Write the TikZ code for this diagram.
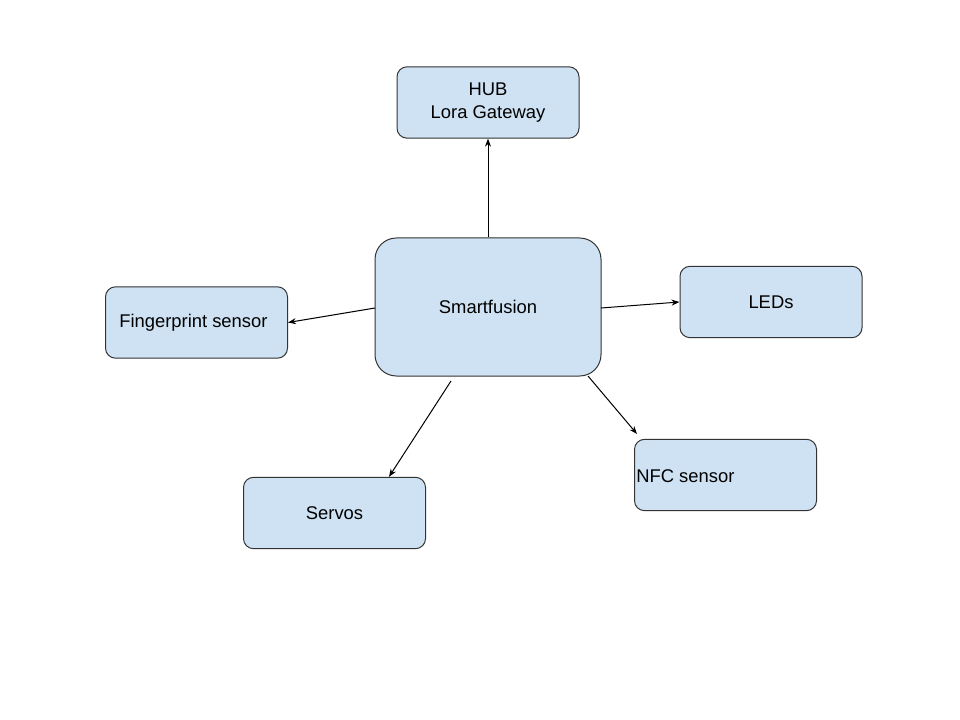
\documentclass[tikz,border=0pt]{standalone}
\usepackage{fontspec}
\setmainfont{Liberation Sans}
\usetikzlibrary{arrows.meta}
\definecolor{boxfill}{HTML}{CFE2F3}
\definecolor{boxline}{HTML}{333333}
\tikzset{
  box/.style={draw=boxline, fill=boxfill, line width=0.75pt, rounded corners=7.5pt,
    minimum width=136.5pt, minimum height=53.5pt, inner sep=0pt, font=\fontsize{13.8pt}{16.8pt}\selectfont, align=center},
  bigbox/.style={box, rounded corners=16pt, minimum width=169.5pt, minimum height=103.5pt},
  link/.style={line width=0.75pt, -{Stealth[length=6pt,width=4.5pt]}},
  lbl/.style={font=\fontsize{13.8pt}{16.8pt}\selectfont, inner sep=0pt, anchor=west}
}
\begin{document}
\begin{tikzpicture}[x=0.75pt,y=-0.75pt]
\useasboundingbox (0,0) rectangle (960,720);
\fill[white] (0,0) rectangle (960,720);
\node[bigbox] (sf) at (488,307) {Smartfusion};
\node[box] (hub) at (488,102.5) {HUB\\Lora Gateway};
\node[box] (fp) at (196.5,322.5) {};
\node[lbl] (fpt) at (119,323) {Fingerprint sensor};
\node[box] (led) at (771,302) {LEDs};
\node[box] (nfc) at (725.5,475) {};
\node[lbl] (nfct) at (636,476) {NFC sensor};
\node[box] (srv) at (334.5,513) {Servos};
\coordinate (a1) at (375,308);
\coordinate (a2) at (601,308);
\coordinate (a3) at (451,381);
\coordinate (a4) at (588,376);
\coordinate (e2) at (637,434);
\draw[link] (sf.north) -- (hub.south);
\draw[link] (a1) -- (fp.east);
\draw[link] (a2) -- (led.west);
\draw[link] (a3) -- (srv.north -| 389,0);
\draw[link] (a4) -- (e2);
\end{tikzpicture}
\end{document}
